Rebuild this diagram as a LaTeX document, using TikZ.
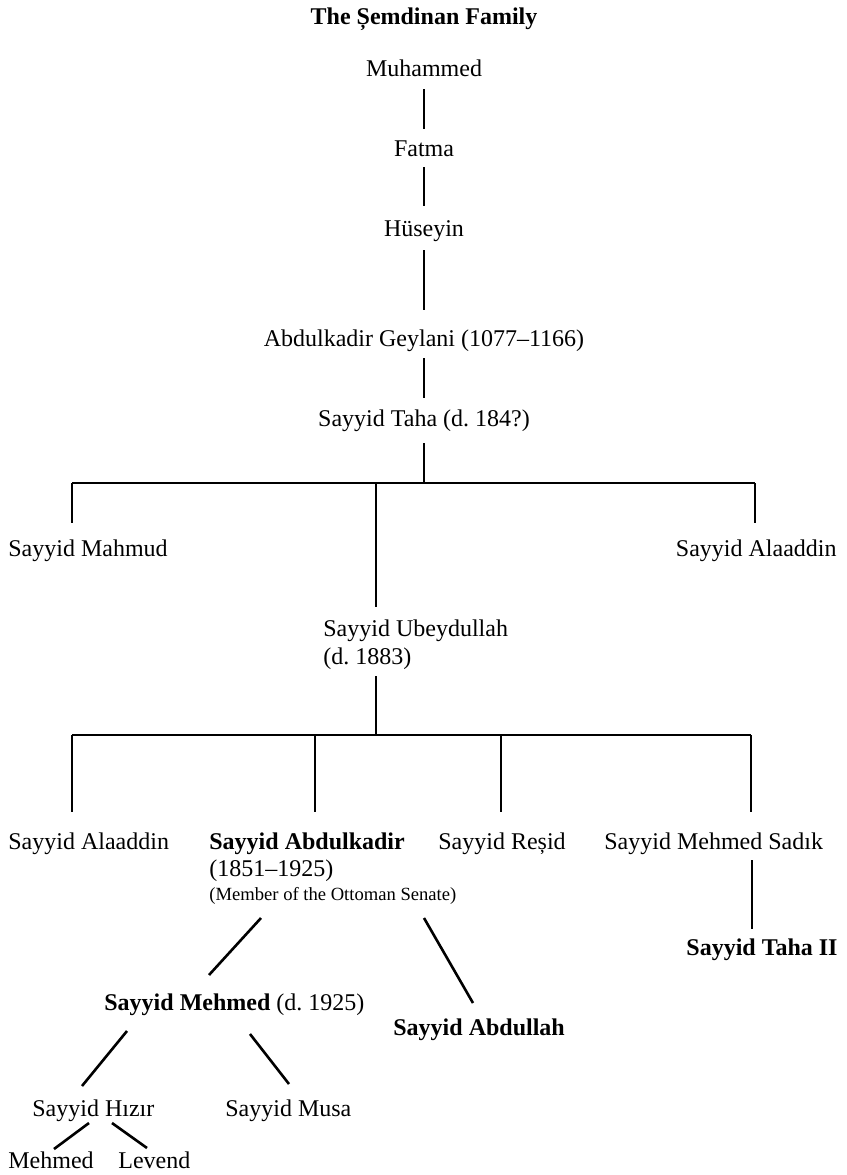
\documentclass[tikz,border=0pt]{standalone}
\usepackage{fontspec}
\setmainfont{Liberation Serif}
\usetikzlibrary{calc}
\frenchspacing

\begin{document}
\begin{tikzpicture}[
  x=0.5pt, y=-0.5pt,
  person/.style={inner sep=0pt, font=\fontsize{12}{14}\selectfont},
  note/.style={inner sep=0pt, font=\fontsize{9.3}{11}\selectfont},
  link/.style={line width=1.3pt, line cap=butt}
]
\useasboundingbox (0,0) rectangle (847,1175);

% title and the direct line of descent
\node[person, anchor=base, font=\fontsize{12}{14}\selectfont\bfseries] (title) at (424,24) {The Șemdinan Family};
\node[person, anchor=base] (muh)  at (424,76)  {Muhammed};
\node[person, anchor=base] (fat)  at (424,156) {Fatma};
\node[person, anchor=base] (hus)  at (424,236) {Hüseyin};
\node[person, anchor=base] (gey)  at (424,346) {Abdulkadir Geylani (1077–1166)};
\node[person, anchor=base] (taha) at (424,426) {Sayyid Taha (d. 184?)};

% children of Sayyid Taha
\node[person, anchor=base west] (mahmud) at (8,556)   {Sayyid Mahmud};
\node[person, anchor=base east] (alaR)   at (837,556) {Sayyid Alaaddin};
\node[person, anchor=base west] (ubey)   at (323,636) {Sayyid Ubeydullah};
\node[person, anchor=base west] (ubeyd)  at (323,664) {(d. 1883)};

% children of Sayyid Ubeydullah
\node[person, anchor=base west] (alaL)  at (8,849)   {Sayyid Alaaddin};
\node[person, anchor=base west] (ak)    at (209,849) {\bfseries Sayyid Abdulkadir};
\node[person, anchor=base west] (akd)   at (209,876) {(1851–1925)};
\node[note,   anchor=base west] (aks)   at (209,900) {(Member of the Ottoman Senate)};
\node[person, anchor=base west] (resid) at (438,849) {Sayyid Reșid};
\node[person, anchor=base west] (sadik) at (604,849) {Sayyid Mehmed Sadık};
\node[person, anchor=base east] (tahaii) at (838,955) {\bfseries Sayyid Taha II};

% later generations
\node[person, anchor=base west] (mehmed)   at (104,1010) {\textbf{Sayyid Mehmed} (d. 1925)};
\node[person, anchor=base west] (abdullah) at (393,1035) {\bfseries Sayyid Abdullah};
\node[person, anchor=base west] (hizir)    at (32,1116)  {Sayyid Hızır};
\node[person, anchor=base west] (musa)     at (225,1116) {Sayyid Musa};
\node[person, anchor=base west] (mehmedg)  at (8,1168)   {Mehmed};
\node[person, anchor=base west] (levend)   at (118,1168) {Levend};

% junctions of the two sibling bars
\coordinate (b1w) at (72,483);
\coordinate (b1m) at (376,483);
\coordinate (b1e) at (755,483);
\coordinate (b2w) at (72,735);
\coordinate (b2a) at (315,735);
\coordinate (b2b) at (501,735);
\coordinate (b2e) at (751,735);

% single line of descent
\draw[link] ($(muh.base)+(0,13)$) -- ($(fat.base)+(0,-27)$);
\draw[link] ($(fat.base)+(0,11)$) -- ($(hus.base)+(0,-30)$);
\draw[link] ($(hus.base)+(0,14)$) -- ($(gey.base)+(0,-36)$);
\draw[link] ($(gey.base)+(0,12)$) -- ($(taha.base)+(0,-28)$);

% Sayyid Taha's children
\draw[link] ($(taha.base)+(0,17)$) -- (taha.base |- b1w);
\draw[link] (b1w) -- (b1e);
\draw[link] (b1w) -- ($(b1w |- mahmud.base)+(0,-33)$);
\draw[link] (b1e) -- ($(b1e |- alaR.base)+(0,-33)$);
\draw[link] (b1m) -- ($(b1m |- ubey.base)+(0,-29)$);

% Sayyid Ubeydullah's children
\draw[link] ($(b1m |- ubeyd.base)+(0,12)$) -- (b1m |- b2w);
\draw[link] (b2w) -- (b2e);
\draw[link] (b2w) -- ($(b2w |- alaL.base)+(0,-37)$);
\draw[link] (b2a) -- ($(b2a |- ak.base)+(0,-37)$);
\draw[link] (b2b) -- ($(b2b |- resid.base)+(0,-37)$);
\draw[link] (b2e) -- ($(b2e |- sadik.base)+(0,-37)$);

% Sayyid Mehmed Sadık to Sayyid Taha II
\draw[link] ($(b2e |- sadik.base)+(1,11)$) -- ($(b2e |- tahaii.base)+(1,-26)$);

% Sayyid Abdulkadir's sons
\draw[link] ($(aks.base west)+(52,18)$)  -- ($(mehmed.base west)+(105,-35)$);
\draw[link] ($(aks.base west)+(215,18)$) -- ($(abdullah.base west)+(80,-32)$);

% Sayyid Mehmed's sons
\draw[link] ($(mehmed.base west)+(23,21)$)  -- ($(hizir.base west)+(50,-30)$);
\draw[link] ($(mehmed.base west)+(146,24)$) -- ($(musa.base west)+(64,-32)$);

% Sayyid Hızır's sons
\draw[link] ($(hizir.base west)+(57,7)$) -- ($(mehmedg.base west)+(46,-19)$);
\draw[link] ($(hizir.base west)+(80,7)$) -- ($(levend.base west)+(29,-20)$);
\end{tikzpicture}
\end{document}
